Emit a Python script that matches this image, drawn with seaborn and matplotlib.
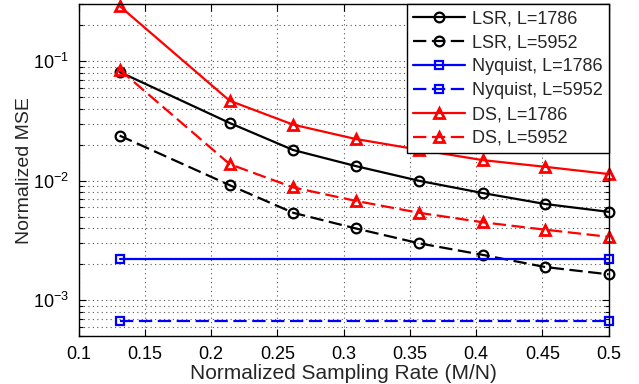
import numpy as np
import pandas as pd
import matplotlib
matplotlib.use('Agg')
import matplotlib.pyplot as plt
import seaborn as sns

# sampling rate M/N
rate = [0.131, 0.214, 0.262, 0.309, 0.357, 0.405, 0.452, 0.5]
nyq_rate = [0.131, 0.5]

lsr_1786 = [0.0815, 0.0305, 0.0181, 0.0133, 0.0100, 0.0079, 0.0064, 0.0055]
lsr_5952 = [0.0239, 0.0092, 0.0054, 0.0040, 0.0030, 0.0024, 0.0019, 0.00165]
nyq_1786 = [0.00223, 0.00223]
nyq_5952 = [0.00067, 0.00067]
ds_1786 = [0.29, 0.0468, 0.0295, 0.0224, 0.0182, 0.0149, 0.0131, 0.0114]
ds_5952 = [0.0852, 0.0138, 0.0088, 0.0068, 0.0054, 0.0045, 0.0039, 0.0034]

xticks = [0.1, 0.15, 0.2, 0.25, 0.3, 0.35, 0.4, 0.45, 0.5]

sns.set_style('ticks')
plt.rcParams['font.family'] = ['Liberation Sans', 'DejaVu Sans']
plt.rcParams['font.size'] = 13
plt.rcParams['mathtext.fontset'] = 'custom'
plt.rcParams['mathtext.rm'] = 'Liberation Sans'
plt.rcParams['mathtext.it'] = 'Liberation Sans'

fig = plt.figure(figsize=(6.39, 3.84), dpi=100)
ax = fig.add_axes([0.1229, 0.1242, 0.8297, 0.8646])

series = [
    ('LSR, L=1786', rate, lsr_1786, 'k', '-', 'o'),
    ('LSR, L=5952', rate, lsr_5952, 'k', '--', 'o'),
    ('Nyquist, L=1786', nyq_rate, nyq_1786, '#0000ff', '-', 's'),
    ('Nyquist, L=5952', nyq_rate, nyq_5952, '#0000ff', '--', 's'),
    ('DS, L=1786', rate, ds_1786, '#ff0000', '-', '^'),
    ('DS, L=5952', rate, ds_5952, '#ff0000', '--', '^'),
]
msize = {'o': 7, 's': 5.5, '^': 7}
mew = {'o': 1.6, 's': 1.6, '^': 2.0}

for label, xs, ys, col, ls, mk in series:
    df = pd.DataFrame({'x': xs, 'y': ys})
    kw = dict(linestyle=ls, marker=mk, markersize=msize[mk],
              markerfacecolor='none', markeredgecolor=col,
              markeredgewidth=mew[mk], linewidth=1.6, clip_on=False)
    if ls == '--':
        kw['dashes'] = (6, 2.5)
        kw.pop('linestyle')
    sns.lineplot(data=df, x='x', y='y', ax=ax, color=col, label=label, **kw)

ax.set_yscale('log')
ax.set_xlim(0.1, 0.5)
ax.set_ylim(5e-4, 0.3)
ax.set_xticks(xticks)
ax.set_xticklabels([('%g' % t) for t in xticks])
ax.set_xlabel('Normalized Sampling Rate (M/N)', fontsize=15, labelpad=1)
ax.set_ylabel('Normalized MSE', fontsize=14, labelpad=0)

ax.tick_params(which='both', direction='in', top=True, right=True,
               width=0.8, colors='k', labelsize=13)
ax.tick_params(which='major', length=5, pad=7)
ax.tick_params(which='minor', length=3)
ax.tick_params(axis='x', which='minor', bottom=False, top=False)

ax.grid(True, which='major', color='#555555', linestyle=(0, (1, 3)), linewidth=0.8)
ax.grid(True, which='minor', axis='y', color='#555555', linestyle=(0, (1, 3)), linewidth=0.8)
for s in ax.spines.values():
    s.set_color('k')
    s.set_linewidth(1.0)

leg = ax.legend(loc='upper right', borderaxespad=0, fancybox=False,
                framealpha=1, edgecolor='k', handlelength=2.9,
                handletextpad=0.35, labelspacing=0.38, borderpad=0.35,
                fontsize=13)
leg.get_frame().set_linewidth(1.0)
leg.set_zorder(5)

fig.savefig('out.png', dpi=100)
